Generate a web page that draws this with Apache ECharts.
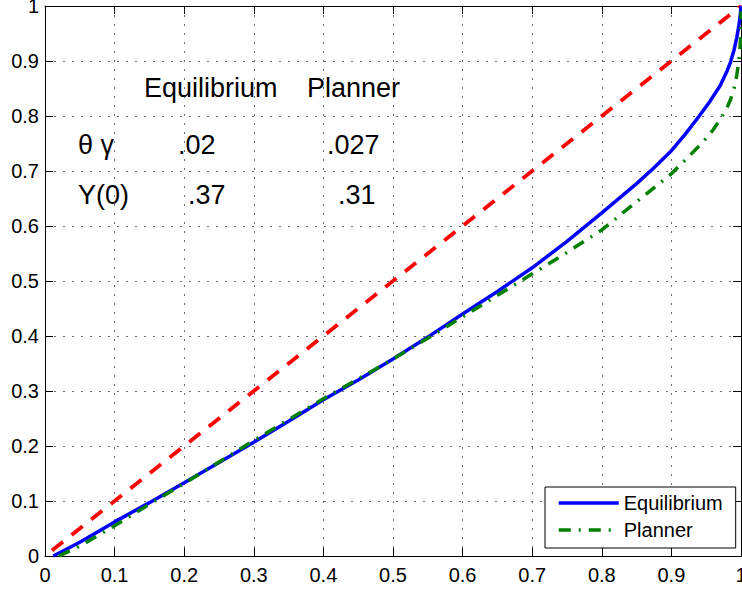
<!DOCTYPE html>
<html>
<head>
<meta charset="utf-8">
<script src="https://cdn.jsdelivr.net/npm/echarts/dist/echarts.min.js"></script>
<style>
html,body{margin:0;padding:0;background:#fff;}
#chart{width:742px;height:592px;}
</style>
</head>
<body>
<div id="chart"></div>
<script>
// ---- data ----
const xTicks = [0, 0.1, 0.2, 0.3, 0.4, 0.5, 0.6, 0.7, 0.8, 0.9, 1];
const yTicks = [0, 0.1, 0.2, 0.3, 0.4, 0.5, 0.6, 0.7, 0.8, 0.9, 1];

const eqX = [0.012, 0.05, 0.1, 0.15, 0.2, 0.25, 0.3, 0.35, 0.4, 0.45, 0.5, 0.55, 0.6, 0.65, 0.7, 0.75, 0.8, 0.85, 0.875, 0.9, 0.92, 0.94, 0.955, 0.97, 0.98, 0.985, 0.99, 0.994, 0.997, 0.999, 1.0];
const eqY = [0, 0.025, 0.062, 0.097, 0.133, 0.17, 0.207, 0.245, 0.284, 0.32, 0.358, 0.398, 0.44, 0.481, 0.524, 0.572, 0.624, 0.677, 0.706, 0.737, 0.767, 0.80, 0.826, 0.855, 0.882, 0.898, 0.92, 0.943, 0.965, 0.984, 1.0];

const plX = [0.02, 0.05, 0.1, 0.15, 0.2, 0.25, 0.3, 0.35, 0.4, 0.45, 0.5, 0.55, 0.6, 0.65, 0.7, 0.75, 0.8, 0.85, 0.9, 0.92, 0.945, 0.96, 0.97, 0.98, 0.985, 0.99, 0.994, 0.997, 0.9995, 1.0];
const plY = [0, 0.018, 0.055, 0.094, 0.132, 0.171, 0.21, 0.248, 0.286, 0.322, 0.358, 0.396, 0.435, 0.474, 0.513, 0.552, 0.593, 0.644, 0.695, 0.72, 0.752, 0.775, 0.794, 0.815, 0.83, 0.85, 0.875, 0.90, 0.94, 0.99];

const diagX = [0.01, 1.0];
const diagY = [0.01, 1.0];

const seriesNames = ['Equilibrium', 'Planner'];

const tableHeader = ['Equilibrium', 'Planner'];
const tableRowLabels = ['\u03b8 \u03b3', 'Y(0)'];
const tableEq = ['.02', '.37'];
const tablePl = ['.027', '.31'];

// ---- build ----
function pairs(xs, ys) { return xs.map((x, i) => [x, ys[i]]); }

const FONT = '"Liberation Sans", Arial, Helvetica, sans-serif';
const chart = echarts.init(document.getElementById('chart'), null, {renderer: 'svg'});

const gridLine = {show: true, lineStyle: {color: '#6e6e6e', width: 1, type: [2, 7]}};
const axisLine = {show: true, onZero: false, lineStyle: {color: '#000', width: 1}};
const tick = {show: true, inside: true, length: 8, lineStyle: {color: '#000', width: 1}};

function annot(text, x, y) {
  return {type: 'text', left: x, top: y - 15, z: 50,
    style: {text: text, font: '27px ' + FONT, fill: '#000'}};
}

const option = {
  animation: false,
  backgroundColor: '#fff',
  grid: {left: 45, right: 1, top: 6, bottom: 36, containLabel: false, outerBoundsMode: 'none'},
  xAxis: [
    {type: 'value', min: xTicks[0], max: xTicks[xTicks.length - 1], interval: 0.1, position: 'bottom',
     axisLine: axisLine, axisTick: tick, splitLine: gridLine,
     axisLabel: {show: true, color: '#000', fontSize: 20, fontFamily: FONT, margin: 9,
       formatter: v => String(+v.toFixed(1))}},
    {type: 'value', min: xTicks[0], max: xTicks[xTicks.length - 1], interval: 0.1, position: 'top',
     axisLine: axisLine, axisTick: tick, splitLine: {show: false}, axisLabel: {show: false}}
  ],
  yAxis: [
    {type: 'value', min: yTicks[0], max: yTicks[yTicks.length - 1], interval: 0.1, position: 'left',
     axisLine: axisLine, axisTick: tick, splitLine: gridLine,
     axisLabel: {show: true, color: '#000', fontSize: 20, fontFamily: FONT, margin: 6,
       formatter: v => String(+v.toFixed(1))}},
    {type: 'value', min: yTicks[0], max: yTicks[yTicks.length - 1], interval: 0.1, position: 'right',
     axisLine: axisLine, axisTick: tick, splitLine: {show: false}, axisLabel: {show: false}}
  ],
  legend: {
    show: true, data: seriesNames, orient: 'vertical', left: 545, top: 487,
    padding: [6, 13, 8, 12], itemGap: 7, itemWidth: 60, itemHeight: 14,
    borderColor: '#000', borderWidth: 1, borderRadius: 0, backgroundColor: '#fff',
    textStyle: {color: '#000', fontSize: 20, fontFamily: FONT},
    itemStyle: {opacity: 0, borderWidth: 0},
    lineStyle: {width: 3.5},
    z: 20
  },
  series: [
    {name: 'diag', type: 'line', data: pairs(diagX, diagY), symbol: 'none', silent: true,
     lineStyle: {color: '#ff0000', width: 3.8, type: [14, 11]}, z: 2},
    {name: seriesNames[0], type: 'line', data: pairs(eqX, eqY), symbol: 'none', showSymbol: false,
     lineStyle: {color: '#0000ff', width: 3.5, type: 'solid'}, itemStyle: {color: '#0000ff'}, z: 3},
    {name: seriesNames[1], type: 'line', data: pairs(plX, plY), symbol: 'none', showSymbol: false,
     lineStyle: {color: '#008000', width: 3.5, type: [12, 8, 2, 8]}, itemStyle: {color: '#008000'}, z: 4}
  ],
  graphic: [
    annot(tableHeader[0], 144, 89),
    annot(tableHeader[1], 307, 89),
    annot(tableRowLabels[0], 78, 146),
    annot(tableEq[0], 178, 146),
    annot(tablePl[0], 327, 146),
    annot(tableRowLabels[1], 78, 196),
    annot(tableEq[1], 188, 196),
    annot(tablePl[1], 338, 196)
  ]
};
chart.setOption(option);
</script>
</body>
</html>
